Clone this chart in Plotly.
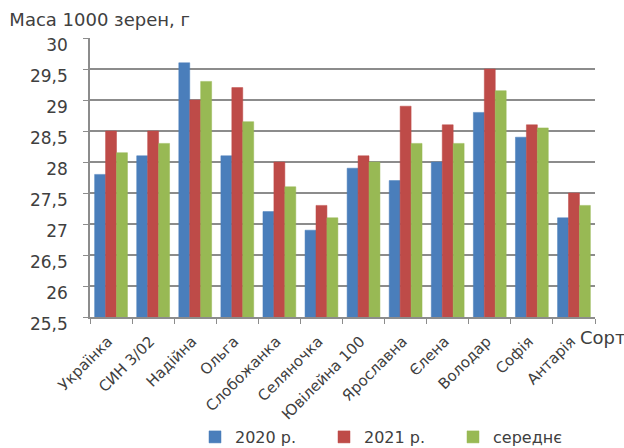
import plotly.graph_objects as go

categories = ["Українка", "СИН 3/02", "Надійна", "Ольга", "Слобожанка", "Селяночка",
              "Ювілейна 100", "Ярославна", "Єлена", "Володар", "Софія", "Антарія"]
y2020 = [27.8, 28.1, 29.6, 28.1, 27.2, 26.9, 27.9, 27.7, 28.0, 28.8, 28.4, 27.1]
y2021 = [28.5, 28.5, 29.0, 29.2, 28.0, 27.3, 28.1, 28.9, 28.6, 29.5, 28.6, 27.5]
yavg = [28.15, 28.3, 29.3, 28.65, 27.6, 27.1, 28.0, 28.3, 28.3, 29.15, 28.55, 27.3]
series_names = ["2020 р.", "2021 р.", "середнє"]
colors = ["#4A7EBB", "#BE4B48", "#98B954"]
ytickvals = [25.5, 26, 26.5, 27, 27.5, 28, 28.5, 29, 29.5, 30]
yticktext = ["25,5", "26", "26,5", "27", "27,5", "28", "28,5", "29", "29,5", "30"]

fig = go.Figure()
for name, vals, col in zip(series_names, [y2020, y2021, yavg], colors):
    fig.add_trace(go.Bar(
        x=categories, y=vals, name=name,
        marker=dict(color=col, line=dict(color=col, width=0.5)),
    ))

font_fam = "DejaVu Sans, Verdana, sans-serif"
fig.update_layout(
    width=624, height=448,
    margin=dict(l=90, r=29, t=38, b=131),
    paper_bgcolor="white", plot_bgcolor="white",
    barmode="group", bargap=0.22, bargroupgap=0,
    font=dict(family=font_fam, size=14, color="#404040"),
    showlegend=True,
    legend=dict(orientation="h", x=(195 - 90) / 505, xanchor="left",
                y=(448 - 437) / 448, yanchor="middle", yref="container",
                font=dict(size=16, color="#404040"), entrywidth=84,
                itemwidth=30, traceorder="normal"),
    title=dict(text="Маса 1000 зерен, г", x=0.015, xanchor="left", xref="container",
               y=1 - 20 / 448, yanchor="middle", yref="container",
               font=dict(size=18, color="#404040", family=font_fam)),
    annotations=[dict(text="Сорт", xref="paper", yref="paper", x=1.0, y=-0.075,
                      xanchor="left", yanchor="middle", showarrow=False, xshift=-17,
                      font=dict(size=18, color="#404040"))],
)
fig.update_yaxes(range=[25.5, 30], tickvals=ytickvals, ticktext=yticktext,
                 showgrid=True, gridcolor="#8C8C8C", gridwidth=2,
                 showline=True, linecolor="#8C8C8C", linewidth=1.5,
                 ticks="outside", ticklen=5, tickcolor="#8C8C8C",
                 ticklabelshift=7, ticklabelstandoff=12,
                 tickfont=dict(size=17, color="#404040"), zeroline=False,
                 automargin=False)
fig.update_xaxes(tickangle=-45, showline=True, linecolor="#8C8C8C", linewidth=1.5,
                 ticks="outside", ticklen=5, tickcolor="#8C8C8C",
                 tickson="boundaries", automargin=False, ticklabelstandoff=8,
                 ticklabelshift=-3,
                 tickfont=dict(size=15, color="#404040"))

fig.write_html("out.html")
